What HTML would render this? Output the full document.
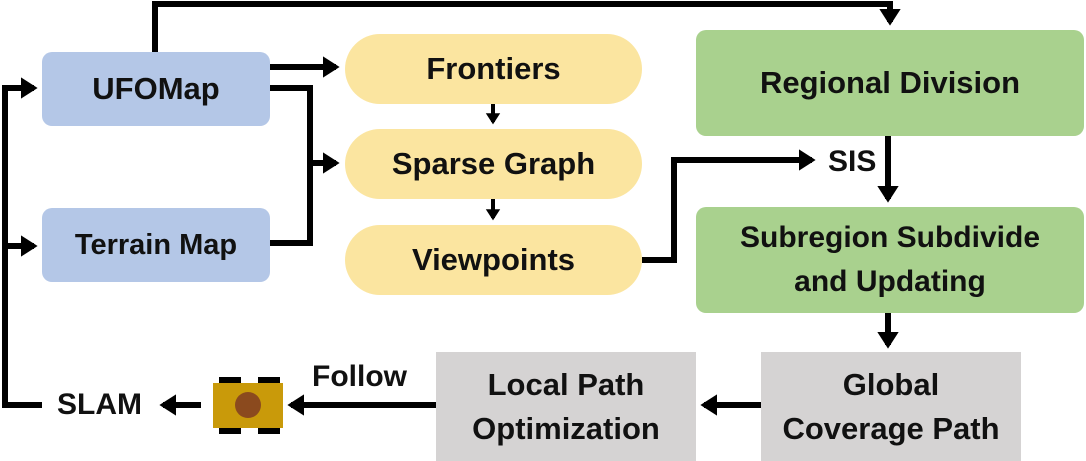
<!DOCTYPE html>
<html><head><style>
body{margin:0;width:1086px;height:461px;background:#fff;position:relative;overflow:hidden;font-family:"Liberation Sans",sans-serif;font-weight:bold;color:#111}
.b{position:absolute;display:flex;align-items:center;justify-content:center;text-align:center;font-size:31px;line-height:44px;white-space:nowrap}
.blue{background:#b4c7e7;border-radius:10px}
.yel{background:#fbe5a0;border-radius:36px}
.grn{background:#a9d18e;border-radius:10px}
.gry{background:#d5d3d3}
.t{position:absolute;font-size:30px}
svg{position:absolute;left:0;top:0}
</style></head><body>
<div class="b blue" style="left:42px;top:52px;width:228px;height:74px">UFOMap</div>
<div class="b blue" style="left:42px;top:208px;width:228px;height:74px;font-size:29px">Terrain Map</div>
<div class="b yel" style="left:345px;top:34px;width:297px;height:70px">Frontiers</div>
<div class="b yel" style="left:345px;top:129px;width:297px;height:70px">Sparse Graph</div>
<div class="b yel" style="left:345px;top:225px;width:297px;height:70px">Viewpoints</div>
<div class="b grn" style="left:696px;top:30px;width:388px;height:106px">Regional Division</div>
<div class="b grn" style="left:696px;top:207px;width:388px;height:106px;font-size:30px">Subregion Subdivide<br>and Updating</div>
<div class="b gry" style="left:436px;top:352px;width:260px;height:109px">Local Path<br>Optimization</div>
<div class="b gry" style="left:761px;top:352px;width:260px;height:109px">Global<br>Coverage Path</div>
<div class="t" style="left:828px;top:145px">SIS</div>
<div class="t" style="left:312px;top:360px">Follow</div>
<div class="t" style="left:57px;top:388px">SLAM</div>
<svg width="1086" height="461">
<defs><marker id="a" markerWidth="4" markerHeight="4" refX="2.2" refY="2" orient="auto" markerUnits="strokeWidth"><path d="M0,0.2 L2.8,2 L0,3.8z" fill="#000"/></marker></defs>
<g stroke="#000" stroke-width="6" fill="none">
<polyline points="155,52 155,4 890,4 890,22" marker-end="url(#a)"/>
<line x1="270" y1="67" x2="336" y2="67" marker-end="url(#a)"/>
<polyline points="270,88 310,88 310,243 270,243"/>
<line x1="310" y1="163" x2="336" y2="163" marker-end="url(#a)"/>
<line x1="493" y1="104" x2="493" y2="122" stroke-width="4" marker-end="url(#a)"/>
<line x1="493" y1="199" x2="493" y2="218" stroke-width="4" marker-end="url(#a)"/>
<polyline points="642,260 674,260 674,160 812,160" marker-end="url(#a)"/>
<line x1="888" y1="136" x2="888" y2="199" marker-end="url(#a)"/>
<line x1="888" y1="313" x2="888" y2="345" marker-end="url(#a)"/>
<line x1="761" y1="405" x2="704" y2="405" marker-end="url(#a)"/>
<line x1="436" y1="405" x2="291" y2="405" marker-end="url(#a)"/>
<line x1="201" y1="405" x2="163" y2="405" marker-end="url(#a)"/>
<polyline points="42,405 5,405 5,88 34,88" marker-end="url(#a)"/>
<line x1="5" y1="246" x2="34" y2="246" marker-end="url(#a)"/>
</g>
<rect x="219" y="377" width="22" height="6" fill="#000"/><rect x="258" y="377" width="22" height="6" fill="#000"/>
<rect x="219" y="428" width="22" height="6" fill="#000"/><rect x="258" y="428" width="22" height="6" fill="#000"/>
<rect x="213" y="383" width="70" height="45" fill="#c99a0a"/>
<circle cx="248" cy="405" r="13" fill="#8b4a1e"/>
</svg>
</body></html>
